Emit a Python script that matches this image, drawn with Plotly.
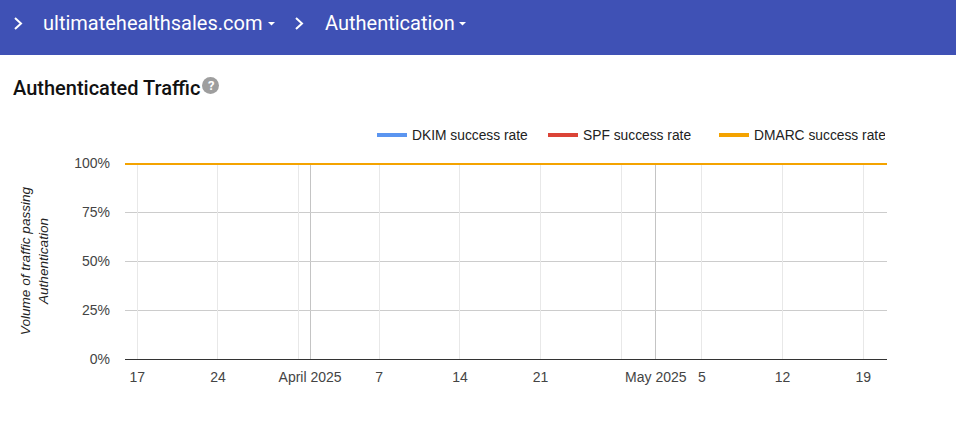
import plotly.graph_objects as go

# --- data ---
dates = ["2025-03-15 22:30", "2025-03-24", "2025-03-31", "2025-04-07", "2025-04-14", "2025-04-21",
         "2025-04-28", "2025-05-05", "2025-05-12", "2025-05-19", "2025-05-21 01:30"]
dkim = [100, 100, 100, 100, 100, 100, 100, 100, 100, 100, 100]
spf = [100, 100, 100, 100, 100, 100, 100, 100, 100, 100, 100]
dmarc = [100, 100, 100, 100, 100, 100, 100, 100, 100, 100, 100]
week_dates = ["2025-03-17", "2025-03-24", "2025-03-31", "2025-04-07", "2025-04-14",
              "2025-04-21", "2025-04-28", "2025-05-05", "2025-05-12", "2025-05-19"]
week_labels = ["17", "24", "", "7", "14", "21", "", "5", "12", "19"]
month_dates = ["2025-04-01", "2025-05-01"]
month_labels = ["April 2025", "May 2025"]
y_ticks = [0, 25, 50, 75, 100]
y_labels = ["0%", "25%", "50%", "75%", "100%"]
series_names = ["DKIM success rate", "SPF success rate", "DMARC success rate"]
series_colors = ["#5b95f0", "#db4437", "#f4a300"]

W, H = 956, 426
px = lambda v: v / W
py = lambda v: 1 - v / H
AXIS = "Liberation Sans, Arial, sans-serif"
UI = "Roboto, sans-serif"

fig = go.Figure()
for name, vals, col, ax in zip(series_names, [dkim, spf, dmarc], series_colors, ["x", "x", "x2"]):
    fig.add_trace(go.Scatter(x=dates, y=vals, mode="lines", name=name, cliponaxis=False, xaxis=ax,
                             line=dict(color=col, width=4), hoverinfo="skip"))

def path(points, close=False):
    s = "M " + " L ".join(f"{px(a):.5f} {py(b):.5f}" for a, b in points)
    return s + (" Z" if close else "")

shapes = [
    dict(type="rect", xref="paper", yref="paper", x0=0, x1=1, y0=py(55), y1=1,
         fillcolor="#3f51b5", line_width=0, layer="below"),
    dict(type="circle", xref="paper", yref="paper", x0=px(202), x1=px(219), y0=py(94), y1=py(77),
         fillcolor="#9e9e9e", line_width=0),
]
for cx in (15, 296):
    shapes.append(dict(type="path", xref="paper", yref="paper",
                       path=path([(cx, 18), (cx + 6, 23.5), (cx, 29)]),
                       line=dict(color="white", width=2)))
for cx in (268, 459):
    shapes.append(dict(type="path", xref="paper", yref="paper",
                       path=path([(cx, 22), (cx + 7, 22), (cx + 3.5, 25.5)], close=True),
                       fillcolor="white", line_width=0))

def txt(x, y, s, size, color, family=UI, anchor="left", **kw):
    return dict(xref="paper", yref="paper", x=px(x), y=py(y), text=s, showarrow=False,
                xanchor=anchor, yanchor="middle", font=dict(family=family, size=size, color=color, **kw))

annotations = [
    txt(41, 23, "ultimatehealthsales.com", 20, "white"),
    txt(323, 23, "Authentication", 20, "white"),
    txt(11, 88, "Authenticated Traffic", 20, "#111111", weight=500),
    txt(210.5, 85.5, "<b>?</b>", 13, "white", anchor="center"),
]

x_common = dict(domain=[px(125), px(887)], anchor="y", type="date", range=[dates[0], dates[-1]],
                tickmode="array", showgrid=True, gridwidth=1, ticks="", tickangle=0,
                ticklabelstandoff=8, tickfont=dict(family=AXIS, size=14, color="#444444"),
                showline=False, zeroline=False, automargin=False)

fig.update_layout(
    width=W, height=H, autosize=False,
    margin=dict(l=0, r=0, t=0, b=0),
    paper_bgcolor="white", plot_bgcolor="white",
    shapes=shapes, annotations=annotations,
    showlegend=True,
    legend=dict(orientation="h", xref="paper", yref="paper", x=px(362), xanchor="left",
                y=py(135), yanchor="middle", entrywidth=126, entrywidthmode="pixels",
                traceorder="normal", font=dict(family=AXIS, size=13.8, color="#222222"),
                bgcolor="rgba(0,0,0,0)", borderwidth=10, bordercolor="rgba(0,0,0,0)",
                itemclick=False, itemdoubleclick=False),
    xaxis=dict(tickvals=month_dates, ticktext=month_labels, gridcolor="#c4c4c4", **x_common),
    xaxis2=dict(overlaying="x", tickvals=week_dates, ticktext=week_labels, gridcolor="#e8e8e8", **x_common),
    yaxis=dict(domain=[py(359), py(163)], anchor="x", range=[0, 100],
               tickmode="array", tickvals=y_ticks, ticktext=y_labels,
               showgrid=True, gridcolor="#cccccc", gridwidth=1, ticks="",
               ticklabelstandoff=14,
               tickfont=dict(family=AXIS, size=14, color="#444444"),
               showline=False, zeroline=True, zerolinecolor="#333333", zerolinewidth=1,
               automargin=False,
               title=dict(text="Volume of traffic passing<br>Authentication", standoff=22,
                          font=dict(family=AXIS, size=13.6, color="#222222", style="italic"))),
)
fig.write_html("out.html", config={"displayModeBar": False},
               post_script="document.body.style.margin='0';")
